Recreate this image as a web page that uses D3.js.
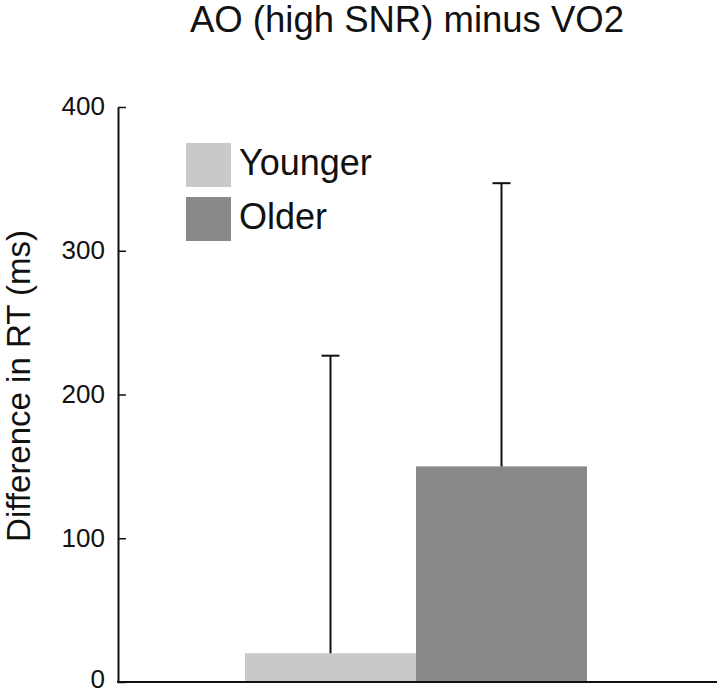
<!DOCTYPE html>
<html>
<head>
<meta charset="utf-8">
<script src="https://cdn.jsdelivr.net/npm/d3@7"></script>
<style>
  html, body { margin: 0; padding: 0; background: #fff; }
  svg { display: block; font-family: "Liberation Sans", Arial, Helvetica, sans-serif; }
</style>
</head>
<body>
<svg id="chart" width="721" height="691"></svg>
<script>
const title = "AO (high SNR) minus VO2";
const yLabel = "Difference in RT (ms)";
const groups = ["Younger", "Older"];
const means = [20, 150];
const errors = [207, 197];
const colors = ["#c9c9c9", "#898989"];
const yTicks = [0, 100, 200, 300, 400];

const svg = d3.select("#chart");
const axisLeft = 118, axisRight = 717, axisTop = 107, axisBottom = 682;

const y = d3.scaleLinear().domain([0, 400]).range([axisBottom, axisTop]);
const x = d3.scaleBand().domain(groups).range([245, 587]).padding(0);

// title
svg.append("text")
  .attr("x", 407).attr("y", 32)
  .attr("text-anchor", "middle")
  .attr("font-size", 36.5)
  .attr("fill", "#111")
  .text(title);

// y label
svg.append("text")
  .attr("transform", `translate(30,386) rotate(-90)`)
  .attr("text-anchor", "middle")
  .attr("font-size", 33)
  .attr("fill", "#111")
  .text(yLabel);

// bars
svg.selectAll("rect.bar").data(groups).join("rect")
  .attr("class", "bar")
  .attr("x", d => x(d))
  .attr("width", x.bandwidth())
  .attr("y", (d, i) => y(means[i]))
  .attr("height", (d, i) => y(0) - y(means[i]))
  .attr("fill", (d, i) => colors[i]);

// error bars (upper only)
const capW = 18;
groups.forEach((g, i) => {
  const cx = x(g) + x.bandwidth() / 2;
  svg.append("line")
    .attr("x1", cx).attr("x2", cx)
    .attr("y1", y(means[i])).attr("y2", y(means[i] + errors[i]))
    .attr("stroke", "#111").attr("stroke-width", 2);
  svg.append("line")
    .attr("x1", cx - capW / 2).attr("x2", cx + capW / 2)
    .attr("y1", y(means[i] + errors[i])).attr("y2", y(means[i] + errors[i]))
    .attr("stroke", "#111").attr("stroke-width", 2);
});

// y axis
const yAxis = d3.axisLeft(y).tickValues(yTicks).tickSizeInner(-8).tickSizeOuter(0).tickPadding(13);
const gy = svg.append("g").attr("transform", `translate(${axisLeft},0)`).call(yAxis);
gy.select(".domain").attr("stroke", "#111").attr("stroke-width", 2);
gy.selectAll(".tick line").attr("stroke", "#111").attr("stroke-width", 1.5);
gy.selectAll(".tick text").attr("font-size", 26).attr("fill", "#111")
  .attr("dy", (d) => d === 0 ? "0.22em" : "0.3em")
  .attr("font-family", "'Liberation Sans', Arial, sans-serif");

// x axis line
svg.append("line")
  .attr("x1", axisLeft - 1).attr("x2", axisRight)
  .attr("y1", axisBottom).attr("y2", axisBottom)
  .attr("stroke", "#111").attr("stroke-width", 2);

// legend
const legend = svg.append("g");
groups.forEach((g, i) => {
  const ly = 143 + i * 54;
  legend.append("rect")
    .attr("x", 186).attr("y", ly)
    .attr("width", 45).attr("height", 44)
    .attr("fill", colors[i]);
  legend.append("text")
    .attr("x", 239).attr("y", ly + 32)
    .attr("font-size", 36)
    .attr("fill", "#111")
    .text(g);
});
</script>
</body>
</html>
